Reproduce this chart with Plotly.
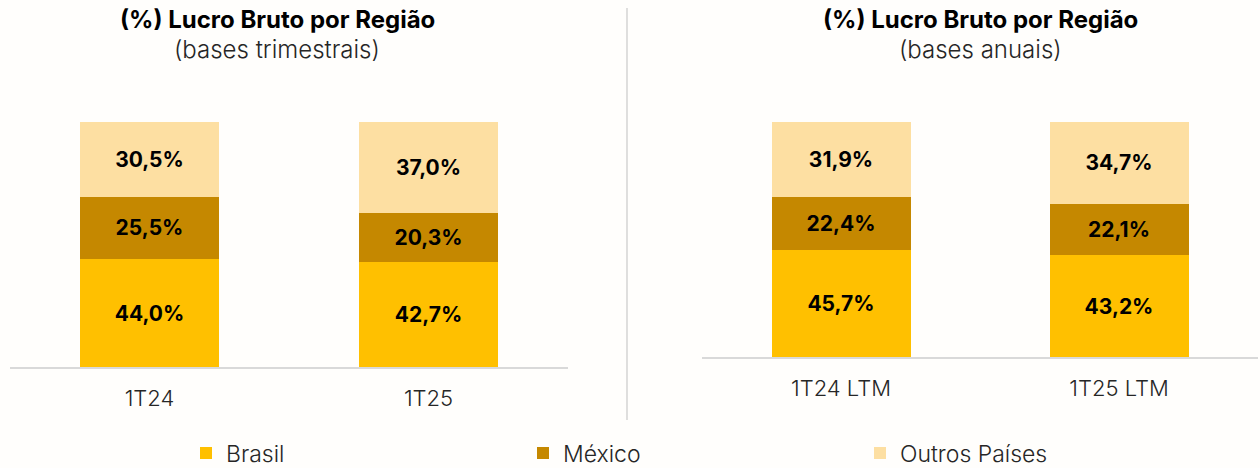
import plotly.graph_objects as go

# Data
cats_tri = ["1T24", "1T25"]
cats_anu = ["1T24 LTM", "1T25 LTM"]
series_names = ["Brasil", "México", "Outros Países"]
brasil_tri = [44.0, 42.7]
mexico_tri = [25.5, 20.3]
outros_tri = [30.5, 37.0]
brasil_anu = [45.7, 43.2]
mexico_anu = [22.4, 22.1]
outros_anu = [31.9, 34.7]

colors = ["#FFC000", "#C58800", "#FDDFA2"]
FONT = "Inter"
W, H = 1260, 468


def fmt(v):
    return f"{v:.1f}%".replace(".", ",")


fig = go.Figure()
tri = [brasil_tri, mexico_tri, outros_tri]
anu = [brasil_anu, mexico_anu, outros_anu]
for i, name in enumerate(series_names):
    fig.add_trace(go.Bar(
        x=cats_tri, y=tri[i], name=name, marker_color=colors[i],
        marker_line_width=0, width=0.5,
        text=[fmt(v) for v in tri[i]], textposition="inside",
        insidetextanchor="middle", textangle=0,
        textfont=dict(family=FONT, size=21, color="#000000", weight="bold"),
        legendgroup=name, showlegend=True, xaxis="x", yaxis="y",
    ))
    fig.add_trace(go.Bar(
        x=cats_anu, y=anu[i], name=name, marker_color=colors[i],
        marker_line_width=0, width=0.5,
        text=[fmt(v) for v in anu[i]], textposition="inside",
        insidetextanchor="middle", textangle=0,
        textfont=dict(family=FONT, size=21, color="#000000", weight="bold"),
        legendgroup=name, showlegend=False, xaxis="x2", yaxis="y2",
    ))

axis_common = dict(
    showline=True, linecolor="#D9D9D9", linewidth=1.5, ticks="",
    showgrid=False, zeroline=False, range=[-0.5, 1.5],
    tickfont=dict(family=FONT, size=22, color="#262626", weight=300),
    ticklabelstandoff=11, fixedrange=True,
)
yaxis_common = dict(range=[0, 100], visible=False, showgrid=False, fixedrange=True)

fig.update_layout(
    width=W, height=H,
    margin=dict(l=0, r=0, t=0, b=0, autoexpand=False),
    paper_bgcolor="#FFFEFC", plot_bgcolor="rgba(0,0,0,0)",
    barmode="stack",
    xaxis=dict(domain=[10 / W, 568 / W], anchor="y", **axis_common),
    xaxis2=dict(domain=[702 / W, 1258 / W], anchor="y2", **axis_common),
    yaxis=dict(domain=[1 - 367 / H, 1 - 122 / H], anchor="x", **yaxis_common),
    yaxis2=dict(domain=[1 - 357 / H, 1 - 122 / H], anchor="x2", **yaxis_common),
    legend=dict(
        orientation="h", x=186 / W, xanchor="left", y=1 - 453 / H, yanchor="middle",
        entrywidth=292, entrywidthmode="pixels", itemwidth=30,
        font=dict(family=FONT, size=23, color="#262626", weight=300),
        bgcolor="rgba(0,0,0,0)", traceorder="normal",
    ),
    showlegend=True,
    uniformtext=dict(minsize=20, mode="show"),
)

titles = [
    (277, "(%) Lucro Bruto por Região", "(bases trimestrais)"),
    (980, "(%) Lucro Bruto por Região", "(bases anuais)"),
]
for cx, t, s in titles:
    fig.add_annotation(
        x=cx / W, y=1 - 20 / H, xref="paper", yref="paper", text=t,
        showarrow=False, xanchor="center", yanchor="middle",
        font=dict(family=FONT, size=24, color="#000000", weight="bold"),
    )
    fig.add_annotation(
        x=cx / W, y=1 - 50 / H, xref="paper", yref="paper", text=s,
        showarrow=False, xanchor="center", yanchor="middle",
        font=dict(family=FONT, size=24, color="#262626", weight=300),
    )

fig.add_shape(
    type="line", xref="paper", yref="paper",
    x0=627 / W, x1=627 / W, y0=1 - 8 / H, y1=1 - 420 / H,
    line=dict(color="#BFBFBF", width=1),
)

fig.write_html(
    "out.html",
    config={"displayModeBar": False},
    post_script="document.body.style.margin='0';document.body.style.overflow='hidden';",
)
